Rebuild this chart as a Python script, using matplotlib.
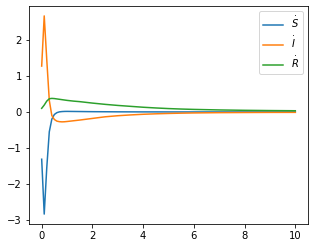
import matplotlib
matplotlib.use("Agg")
import matplotlib.pyplot as plt

t = [0.0, 0.1, 0.2, 0.3, 0.4, 0.5, 0.6, 0.7, 0.8, 0.9, 1.0, 1.25, 1.5, 2.0, 2.5, 3.0,
     3.5, 4.0, 4.5, 5.0, 5.5, 6.0, 7.0, 8.0, 9.0, 10.0]
s_dot = [-1.31, -2.83, -1.55, -0.55, -0.20, -0.07, -0.02, 0.002, 0.01, 0.014, 0.015, 0.013,
         0.011, 0.007, 0.005, 0.003, 0.002, 0.001, 0.001, 0.0, 0.0, 0.0, 0.0, 0.0, 0.0, 0.0]
i_dot = [1.27, 2.66, 1.45, 0.32, -0.10, -0.21, -0.255, -0.27, -0.275, -0.272, -0.265, -0.245,
         -0.225, -0.18, -0.135, -0.105, -0.083, -0.065, -0.052, -0.042, -0.034, -0.028, -0.02,
         -0.016, -0.013, -0.012]
r_dot = [0.10, 0.19, 0.30, 0.365, 0.375, 0.37, 0.36, 0.35, 0.34, 0.33, 0.32, 0.30,
         0.285, 0.245, 0.21, 0.18, 0.155, 0.13, 0.11, 0.093, 0.08, 0.07, 0.055, 0.045,
         0.038, 0.033]

fig = plt.figure(figsize=(315 / 72, 248 / 72), dpi=72)
ax = fig.add_axes([29 / 315, 1 - 224 / 248, (308 - 29) / 315, (224 - 6) / 248])
ax.plot(t, s_dot, label=r"$\dot{S}$")
ax.plot(t, i_dot, label=r"$\dot{I}$")
ax.plot(t, r_dot, label=r"$\dot{R}$")
ax.legend(loc="upper right")
ax.set_xticks([0, 2, 4, 6, 8, 10])
ax.set_yticks([-3, -2, -1, 0, 1, 2])
fig.savefig("out.png", dpi=72)
